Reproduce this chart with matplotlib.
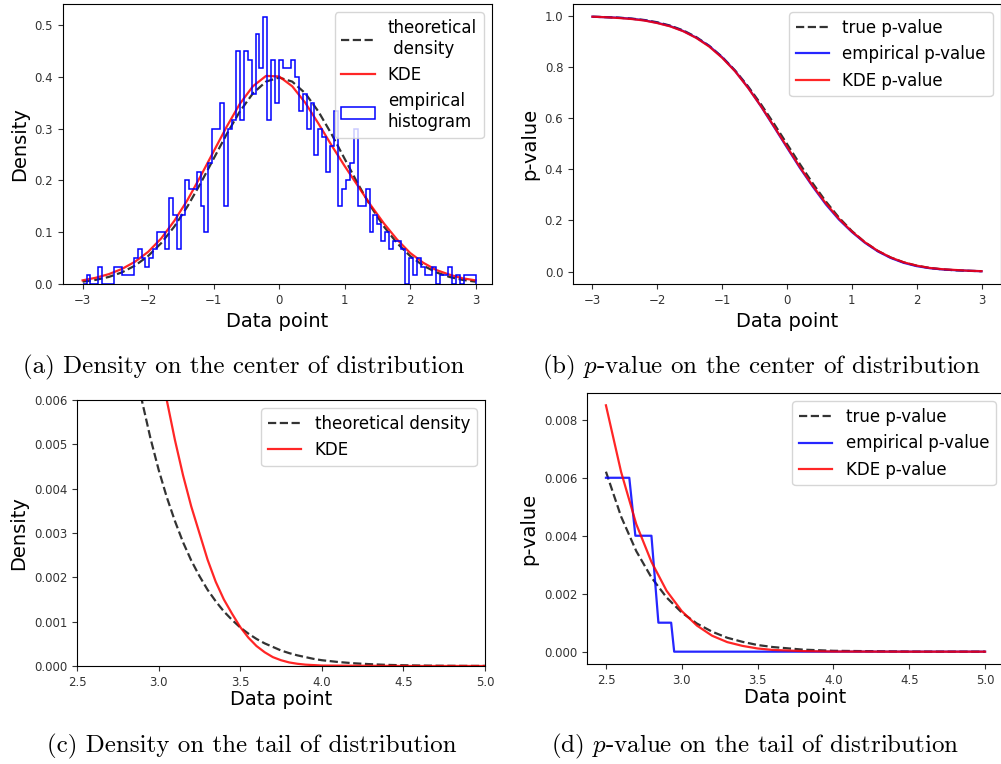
import numpy as np
import matplotlib.pyplot as plt

plt.rcParams['mathtext.fontset'] = 'cm'

# ---- (a) centre: histogram of 1000 samples, 100 bins on [-3, 3]
n_samples = 1000
bin_edges = np.linspace(-3, 3, 101)
hist_counts = [0, 1, 0, 0, 2, 0, 0, 0, 2, 2, 1, 1, 1, 3, 4, 3, 2, 3, 4, 6,
               6, 4, 10, 8, 4, 8, 12, 11, 11, 13, 9, 6, 14, 18, 18, 21, 9, 18, 19, 27,
               19, 27, 26, 22, 29, 25, 31, 19, 26, 21, 26, 25, 25, 26, 24, 20, 22, 18, 21, 15,
               18, 17, 13, 16, 20, 9, 11, 12, 14, 18, 9, 9, 11, 6, 8, 7, 5, 6, 4, 5,
               5, 4, 0, 3, 1, 3, 2, 1, 1, 2, 0, 1, 1, 2, 0, 1, 0, 1, 1, 1]

x_center = np.linspace(-3, 3, 31)
true_density = [0.0044, 0.0079, 0.0136, 0.0224, 0.0355, 0.0540, 0.0790, 0.1109, 0.1497, 0.1942,
                0.2420, 0.2897, 0.3332, 0.3683, 0.3910, 0.3989, 0.3910, 0.3683, 0.3332, 0.2897,
                0.2420, 0.1942, 0.1497, 0.1109, 0.0790, 0.0540, 0.0355, 0.0224, 0.0136, 0.0079, 0.0044]
kde_density = [0.007, 0.012, 0.019, 0.029, 0.043, 0.062, 0.088, 0.122, 0.162, 0.208,
               0.256, 0.304, 0.348, 0.382, 0.402, 0.401, 0.382, 0.350, 0.310, 0.268,
               0.228, 0.190, 0.152, 0.117, 0.086, 0.060, 0.041, 0.027, 0.018, 0.011, 0.007]

# ---- (b) centre p-values
true_pval = [0.9987, 0.9974, 0.9953, 0.9918, 0.9861, 0.9772, 0.9641, 0.9452, 0.9192, 0.8849,
             0.8413, 0.7881, 0.7257, 0.6554, 0.5793, 0.5000, 0.4207, 0.3446, 0.2743, 0.2119,
             0.1587, 0.1151, 0.0808, 0.0548, 0.0359, 0.0228, 0.0139, 0.0082, 0.0047, 0.0026, 0.0013]
emp_pval = [0.999, 0.997, 0.995, 0.991, 0.985, 0.975, 0.962, 0.943, 0.917, 0.884,
            0.840, 0.786, 0.721, 0.647, 0.567, 0.486, 0.406, 0.332, 0.263, 0.204,
            0.155, 0.113, 0.079, 0.053, 0.034, 0.021, 0.013, 0.008, 0.005, 0.003, 0.001]
kde_pval = [0.999, 0.997, 0.994, 0.990, 0.984, 0.974, 0.961, 0.942, 0.916, 0.882,
            0.838, 0.785, 0.720, 0.648, 0.569, 0.489, 0.409, 0.335, 0.267, 0.207,
            0.157, 0.115, 0.081, 0.055, 0.036, 0.023, 0.014, 0.009, 0.006, 0.003, 0.0014]

# ---- (c) tail density
x_tail_true = [2.5, 2.55, 2.6, 2.65, 2.7, 2.75, 2.8, 2.85, 2.9, 2.95, 3.0, 3.05, 3.1, 3.15,
               3.2, 3.25, 3.3, 3.35, 3.4, 3.45, 3.5, 3.55, 3.6, 3.65, 3.7, 3.75, 3.8, 3.85,
               3.9, 3.95, 4.0, 4.1, 4.2, 4.3, 4.4, 4.5, 4.6, 4.7, 4.8, 4.9, 5.0]
tail_true_density = [0.01753, 0.01545, 0.01358, 0.01191, 0.01042, 0.00909, 0.00792, 0.00687,
                     0.00595, 0.00514, 0.00443, 0.00381, 0.00327, 0.00279, 0.00238, 0.00203,
                     0.00172, 0.00146, 0.00123, 0.00104, 0.00087, 0.00073, 0.00061, 0.00051,
                     0.00043, 0.00035, 0.00029, 0.00024, 0.00020, 0.00016, 0.00013, 0.00009,
                     0.00006, 0.00004, 0.000025, 0.000016, 0.00001, 0.000006, 0.000004,
                     0.000002, 0.0000015]
x_tail_kde = [2.5, 2.6, 2.7, 2.8, 2.9, 3.0, 3.05, 3.1, 3.15, 3.2, 3.25, 3.3, 3.35, 3.4,
              3.45, 3.5, 3.55, 3.6, 3.65, 3.7, 3.75, 3.8, 3.85, 3.9, 4.0, 4.5, 5.0]
tail_kde_density = [0.022, 0.018, 0.0145, 0.0118, 0.0095, 0.0069, 0.0060, 0.0051, 0.0043,
                    0.0036, 0.0030, 0.0024, 0.0019, 0.0015, 0.00118, 0.00088, 0.00064,
                    0.00045, 0.00031, 0.0002, 0.00013, 0.00008, 0.00005, 0.00003, 0.00001,
                    0.0, 0.0]

# ---- (d) tail p-values
x_tail_p = [2.5, 2.6, 2.7, 2.8, 2.9, 3.0, 3.1, 3.2, 3.3, 3.4, 3.5, 3.6, 3.8, 4.0, 4.5, 5.0]
tail_true_pval = [0.00621, 0.00466, 0.00347, 0.00256, 0.00187, 0.00135, 0.00097, 0.00069,
                  0.00048, 0.00034, 0.00023, 0.00016, 0.00007, 0.00003, 0.000003, 0.0]
tail_kde_pval = [0.0085, 0.0062, 0.0044, 0.0031, 0.0021, 0.0014, 0.0009, 0.00055,
                 0.00033, 0.0002, 0.00011, 0.00006, 0.00002, 0.000005, 0.0, 0.0]
x_emp_steps = [2.5, 2.654, 2.694, 2.80, 2.846, 2.93, 2.95, 5.0]
emp_steps = [0.006, 0.006, 0.004, 0.004, 0.001, 0.001, 0.0, 0.0]

tick_fs = 8.5
label_fs = 14
leg_fs = 12

fig = plt.figure(figsize=(10.01, 7.64), dpi=100)
ax_a = fig.add_axes([0.0629, 0.6283, 0.4286, 0.3665])
ax_b = fig.add_axes([0.5724, 0.6283, 0.4276, 0.3665])
ax_c = fig.add_axes([0.0769, 0.1283, 0.4076, 0.3482])
ax_d = fig.add_axes([0.5864, 0.1309, 0.4166, 0.3547])

# (a)
density = np.array(hist_counts) / (n_samples * (bin_edges[1] - bin_edges[0]))
ax_a.plot(x_center, true_density, 'k--', lw=1.6, alpha=0.8, label='theoretical\n density')
ax_a.plot(x_center, kde_density, 'r', lw=1.6, alpha=0.85, label='KDE')
ax_a.hist(bin_edges[:-1], bins=bin_edges, weights=density, histtype='step',
          color='b', lw=1.1, label='empirical\nhistogram')
ax_a.set_xlim(-3.3, 3.25)
ax_a.set_ylim(0, 0.541)
ax_a.set_xlabel('Data point', fontsize=label_fs)
ax_a.set_ylabel('Density', fontsize=label_fs)
ax_a.legend(loc='upper right', fontsize=leg_fs, handlelength=2.0)

# (b)
ax_b.plot(x_center, true_pval, 'k--', lw=1.6, alpha=0.8, label='true p-value')
ax_b.plot(x_center, emp_pval, 'b', lw=1.6, alpha=0.85, label='empirical p-value')
ax_b.plot(x_center, kde_pval, 'r', lw=1.6, alpha=0.85, label='KDE p-value')
ax_b.set_xlabel('Data point', fontsize=label_fs)
ax_b.set_ylabel('p-value', fontsize=label_fs)
ax_b.legend(loc='upper right', fontsize=leg_fs)

# (c)
ax_c.plot(x_tail_true, tail_true_density, 'k--', lw=1.6, alpha=0.8, label='theoretical density')
ax_c.plot(x_tail_kde, tail_kde_density, 'r', lw=1.6, alpha=0.85, label='KDE')
ax_c.set_xlim(2.5, 5.0)
ax_c.set_ylim(0, 0.006)
ax_c.set_xlabel('Data point', fontsize=label_fs, labelpad=1)
ax_c.set_ylabel('Density', fontsize=label_fs)
ax_c.legend(loc='upper right', fontsize=leg_fs)

# (d)
ax_d.plot(x_tail_p, tail_true_pval, 'k--', lw=1.6, alpha=0.8, label='true p-value')
ax_d.plot(x_emp_steps, emp_steps, 'b', lw=1.6, alpha=0.85, label='empirical p-value')
ax_d.plot(x_tail_p, tail_kde_pval, 'r', lw=1.6, alpha=0.85, label='KDE p-value')
ax_d.set_xticks([2.5, 3.0, 3.5, 4.0, 4.5, 5.0])
ax_d.set_xlabel('Data point', fontsize=label_fs, labelpad=1)
ax_d.set_ylabel('p-value', fontsize=label_fs)
ax_d.legend(loc='upper right', fontsize=leg_fs)

for ax in (ax_a, ax_b, ax_c, ax_d):
    ax.tick_params(labelsize=tick_fs, colors='#333333', labelcolor='#333333')

cap = dict(ha='center', va='center', fontsize=18, family='cmr10')
fig.text(0.243, 0.5196, '(a) Density on the center of distribution', **cap)
fig.text(0.761, 0.5196, '(b) $p$-value on the center of distribution', **cap)
fig.text(0.251, 0.0236, '(c) Density on the tail of distribution', **cap)
fig.text(0.754, 0.0236, '(d) $p$-value on the tail of distribution', **cap)

fig.savefig('out.png', dpi=100)
